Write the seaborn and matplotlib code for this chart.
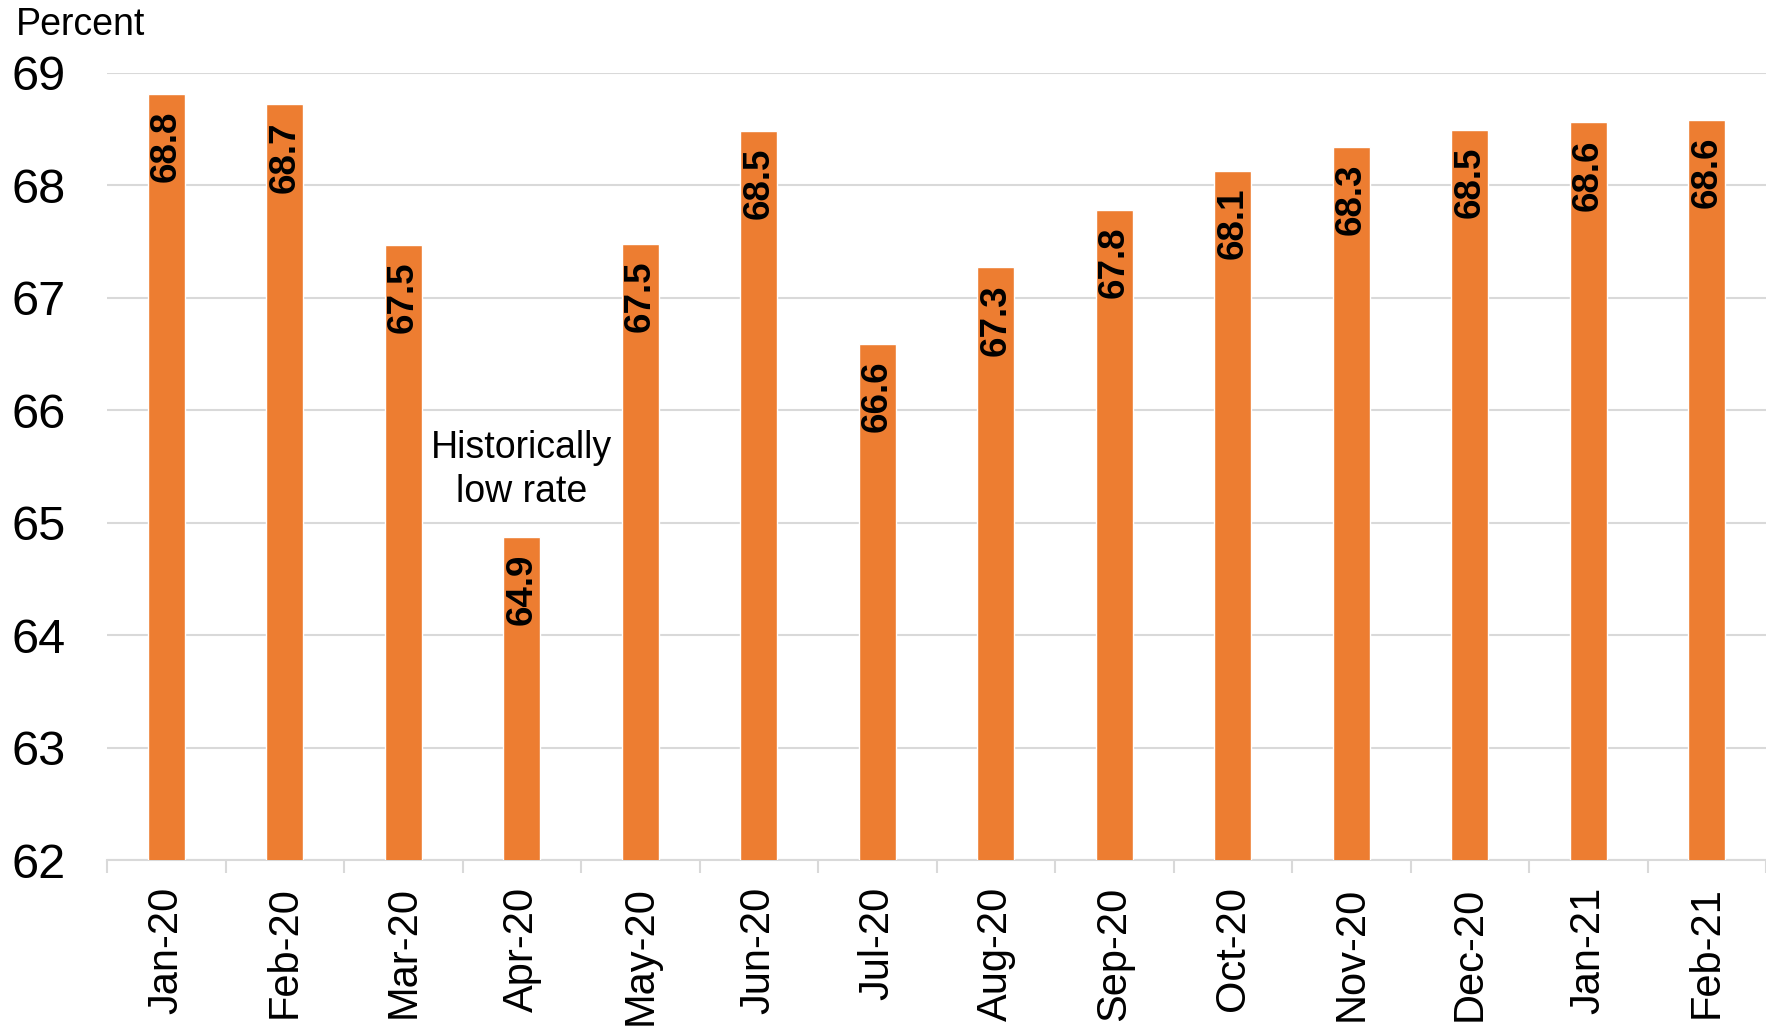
import matplotlib
matplotlib.use("Agg")
import matplotlib.pyplot as plt
import seaborn as sns
import pandas as pd
import numpy as np

# data
months = ["Jan-20", "Feb-20", "Mar-20", "Apr-20", "May-20", "Jun-20", "Jul-20",
          "Aug-20", "Sep-20", "Oct-20", "Nov-20", "Dec-20", "Jan-21", "Feb-21"]
rates = [68.81, 68.72, 67.47, 64.87, 67.48, 68.48, 66.59,
         67.27, 67.78, 68.13, 68.34, 68.49, 68.56, 68.58]
yticks = [62, 63, 64, 65, 66, 67, 68, 69]

BAR_COLOR = "#ED7D31"
GRID_COLOR = "#D9D9D9"

sns.set_theme(style="white")
plt.rcParams["font.family"] = ["Liberation Sans", "DejaVu Sans"]
plt.rcParams["text.color"] = "black"
plt.rcParams["xtick.color"] = "black"
plt.rcParams["ytick.color"] = "black"

df = pd.DataFrame({"month": months, "rate": rates})

fig = plt.figure(figsize=(17.66, 10.28), dpi=100)
ax = fig.add_axes([0.0606, 0.1634, 0.9394, 0.7656])

sns.barplot(data=df, x="month", y="rate", color=BAR_COLOR, saturation=1,
            width=0.31, ax=ax, zorder=3)

ax.set_ylim(62, 69)
ax.set_xlim(-0.5, len(months) - 0.5)
ax.set_yticks(yticks)
ax.set_yticklabels([str(t) for t in yticks], fontsize=35)
ax.yaxis.grid(True, color=GRID_COLOR, linewidth=1.5, zorder=0)
ax.set_axisbelow(True)

ax.set_xlabel("")
ax.set_ylabel("")
ax.set_xticks(range(len(months)))
ax.set_xticklabels(months, rotation=90, fontsize=30)
ax.set_xticks(np.arange(-0.5, len(months), 1.0), minor=True)
ax.tick_params(axis="x", which="major", length=0, pad=19)
ax.tick_params(axis="x", which="minor", length=9.5, width=1.5, color=GRID_COLOR, bottom=True)
ax.tick_params(axis="y", length=0, pad=30)

for s in ["top", "right", "left"]:
    ax.spines[s].set_visible(False)
ax.spines["bottom"].set_color(GRID_COLOR)
ax.spines["bottom"].set_linewidth(1.5)

# value labels inside the bars
for i, v in enumerate(rates):
    ax.annotate(f"{v:.1f}", xy=(i, v), xytext=(0, -12), textcoords="offset points",
                rotation=90, ha="center", va="top", fontsize=26.5,
                fontweight="bold", color="black", zorder=4)

ax.text(3, 65.47, "Historically\nlow rate", ha="center", va="center",
        fontsize=27, linespacing=1.28, zorder=4)

fig.text(0.009, 0.993, "Percent", ha="left", va="top", fontsize=27)

fig.savefig("out.png", dpi=100, facecolor="white")
